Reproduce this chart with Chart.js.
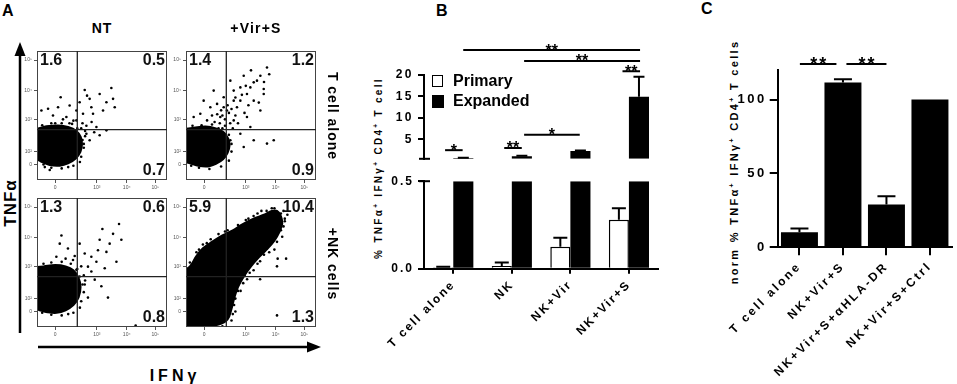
<!DOCTYPE html>
<html>
<head>
<meta charset="utf-8">
<script src="https://cdn.jsdelivr.net/npm/chart.js@4.4.1/dist/chart.umd.min.js"></script>
<style>
  html, body { margin: 0; padding: 0; background: #fff; }
  #fig { position: relative; width: 957px; height: 384px; overflow: hidden;
         font-family: "Liberation Sans", Arial, sans-serif; font-weight: bold; color: #000; }
  #fig canvas { position: absolute; }
  .txt { position: absolute; white-space: nowrap; line-height: 1; }
  .ctr { transform: translate(-50%, -50%); }
  .up { transform: translate(-50%, -50%) rotate(-90deg); }
  .down { transform: translate(-50%, -50%) rotate(90deg); }
  sup { font-size: 65%; vertical-align: 0.55em; line-height: 0; }
  .key { position: absolute; box-sizing: border-box; border: 1.5px solid #000; }
</style>
</head>
<body>
<div id="fig">
  <svg width="957" height="384" style="position:absolute;left:0;top:0">
    <line x1="20" y1="333" x2="20" y2="52" stroke="#000" stroke-width="2.5"/>
    <polygon points="20,42 14.5,56 25.5,56" fill="#000"/>
    <line x1="38" y1="347" x2="309" y2="347" stroke="#000" stroke-width="2.5"/>
    <polygon points="321,347 307,341.5 307,352.5" fill="#000"/>
  </svg>
  <div class="txt" style="left:2px;top:3px;font-size:16px">A</div>
  <div class="txt" style="left:436px;top:3px;font-size:16px">B</div>
  <div class="txt" style="left:701px;top:1px;font-size:16px">C</div>
  <div class="txt up" style="left:9.5px;top:203px;font-size:17px;letter-spacing:1px">TNFα</div>
  <div class="txt ctr" style="left:175px;top:376px;font-size:16px;letter-spacing:4px">IFNγ</div>
  <div class="txt up" style="left:379px;top:168px;font-size:10px;letter-spacing:2.3px">% TNFα<sup>+</sup> IFNγ<sup>+</sup> CD4<sup>+</sup> T cell</div>
  <div class="txt up" style="left:734px;top:162px;font-size:11px;letter-spacing:2.3px">norm % TNFα<sup>+</sup> IFNγ<sup>+</sup> CD4<sup>+</sup> T cells</div>
</div>

<script>
// ---- panel A : flow plots (IFNγ on x, TNFα on y, display units 0-100) ----
const flowColumns = ['NT', '+Vir+S'];
const flowRows = ['T cell alone', '+NK cells'];
const flowXTicks = [14, 46, 69, 91];
const flowXTickText = ['0', '10³', '10⁴', '10⁵'];
const flowYTicks = [12, 22, 47, 69, 93];
const flowYTickText = ['0', '10²', '10³', '10⁴', '10⁵'];
const gateIFNg = 31;
const gateTNFa = 39;
const quadUL = ['1.6', '1.4', '1.3', '5.9'];
const quadUR = ['0.5', '1.2', '0.6', '10.4'];
const quadLR = ['0.7', '0.9', '0.8', '1.3'];

// outlines of the dense populations
const tcellNtOutline = [[-5,40],[0,39.8],[7.2,41.6],[16.2,42.3],[23.9,41.1],[30.3,38],[33.6,33.4],[34.6,27.7],
  [33.4,21.8],[29.8,16.7],[23.9,12.9],[17.5,11.1],[9.8,11.6],[3.4,14.1],[0,15.9],[-5,16]];
const tcellVirOutline = [[-5,39],[6,40.5],[15,41.5],[23,40],[29,37],[32.5,32],[33.5,27],[32,21],[28.5,16],
  [23,12.5],[17,10.5],[9.5,11],[3,13],[-5,15]];
const nkNtOutline = [[-5,46],[5,47],[14,48],[22,47],[28,44],[32,38],[33.5,31],[32,23],[28,17],[22,13],
  [15,11],[8,11.5],[2,13],[-5,15]];
const nkVirOutline = [[-5,2],[5,1],[15,1],[25,2],[32,6],[35,14],[37,22],[40,31],[45,40],[50,47],[56,54],
  [62,60],[68,67],[72,74],[74,80],[73,86],[70,90],[66,90],[60,87],[52,84],[44,80],[36,75],[28,71],[20,66],
  [13,61],[8,55],[3,47],[-5,42]];

// scattered single events
const tcellNtEvents = [[18.2,64.1],[36.7,69.8],[38.5,65.4],[40.5,62.9],[48.2,66.7],[57.2,71.3],[58.5,62.9],
  [59.8,56.4],[16.2,56.4],[8.5,55.2],[25.1,57.7],[30.3,53.9],[35.4,51.3],[43.1,51.3],[50.8,53.9],[45.7,41.1],
  [38,35.9],[53.4,38.5],[48.2,34.7],[40.5,30.8],[30.3,46.2],[22.6,48.8],[12.3,50],[3.4,53.9],[32.8,60.3],
  [41.8,56.4],[53.4,60.3],[9.8,7.7],[35,31],[36,25],[34,18],[28,11],[19,9],[11,9.5],[5,12],[31,40],[27,43.5],
  [19,44],[11,44],[4,42.5],[37,34],[34,40],[28,46],[20,47],[35,44],[38,42],[42,45],[37,38],[44,37],[36,28],
  [33,14],[24,10],[14,44],[25,44],[6,10]];
const tcellVirEvents = [[62.3,87.2],[52.1,75.7],[59.8,70.6],[46.9,66.7],[36.7,69.3],[29,64.1],[23.9,59],
  [18.7,56.4],[11,51.3],[5.9,48.8],[31.5,53.9],[39.2,56.4],[41.8,61.5],[52.1,61.5],[57.2,53.9],[46.9,48.8],
  [36.7,46.2],[26.4,48.8],[16.2,46.2],[49.5,41.1],[41.8,35.9],[34.1,30.8],[62.3,28.2],[67.5,30.8],[52.1,30.8],
  [44.4,25.6],[59.8,66.7],[54.6,77],[49.5,71.8],[41.8,71.8],[21.3,69.3],[13.6,61.5],[34.1,77],[44.4,80.8],
  [57.2,80.8],[36.7,61.5],[29,56.4],[28,50],[30,47],[33,52],[27,54],[24,51],[32,58],[35,55],[26,44],[22,45],
  [20,50],[38,50],[34,44],[30,42],[25,40],[36,40],[40,44],[45,52],[48,58],[43,66],[38,64],[56,60],[60,76],
  [64,82],[50,85],[46,73],[35,28],[35,22],[33,15],[27,10.5],[18,8.5],[10,9.5],[4,11],[33,35],[28,40],[20,43],
  [12,42.5],[5,42]];
const nkNtEvents = [[63.1,79.8],[50.3,76],[58.5,72.2],[64.9,67.6],[48.2,67.6],[55.9,64.6],[61.1,50.6],
  [18.8,70.9],[23.8,60.8],[32.8,64.6],[36.7,57],[41.8,54.4],[45.7,50.6],[39.2,46.8],[52.1,45.6],[44.4,36.7],
  [36.7,32.9],[49.5,31.6],[54.6,22.8],[39.2,22.8],[75.9,1.2],[17.5,64.6],[27.7,51.9],[14.9,54.4],[30.3,44.3],
  [32.8,39.2],[41.8,43],[46.9,59.5],[53.4,58.2],[35,33],[36,27],[34,20],[28,11],[19,9],[11,9.5],[4,11],
  [31,45],[26,49],[19,50.5],[11,50],[5,49],[36,40],[34,47],[22,53],[29,55],[37,36],[33,15],[24,10]];
const nkVirEvents = [[70.5,53],[77,53],[70,47],[57,37],[70,9],[75,90],[73,88],[66,92],[52,44],[45,40],
  [64,65],[68,60],[73,75],[76,82],[38,22],[40,28],[44,34],[36,10],[38,12],[3,50],[8,58],[13,64],[19,68],
  [25,72],[32,75],[40,79],[48,84],[55,88],[62,90],[78,87],[76,84],[60,56],[55,49],[49,42],[42,28],[28,0.5],
  [37,17],[16,65],[10,60],[30,74],[46,83],[52,86],[70,66],[64,58],[57,51],[47,37],[75,78],[74,70],[40,34],
  [35,5],[22,0.5],[68,92],[58,90]];

// ---- panel B ----
const bCategories = ['T cell alone', 'NK', 'NK+Vir', 'NK+Vir+S'];
const seriesNames = ['Primary', 'Expanded'];
const primaryPct = [0.008, 0.015, 0.125, 0.28];
const primaryErr = [0.003, 0.02, 0.052, 0.065];
const expandedPct = [0.7, 1.1, 2.3, 14.9];
const expandedErr = [0.04, 0.08, 0.12, 4.6];
const bUpperTicks = [5, 10, 15, 20];
const bLowerTicks = [0, 0.5];
const bSignif = [
  { from: 0.17, to: 3.19, y: 25.7, text: '**' },
  { from: 1.21, to: 3.19, y: 23.2, text: '**' },
  { from: 2.89, to: 3.19, y: 20.8, text: '**' },
  { from: 1.21, to: 2.16, y: 6.1, text: '*' },
  { from: -0.14, to: 0.16, y: 2.5, text: '*' },
  { from: 0.87, to: 1.17, y: 3.0, text: '**' }
];

// ---- panel C ----
const cCategories = ['T cell alone', 'NK+Vir+S', 'NK+Vir+S+αHLA-DR', 'NK+Vir+S+Ctrl'];
const cValues = [10.2, 111.5, 29, 100];
const cErr = [2.5, 2.3, 5.6, 0];
const cTicks = [0, 50, 100];
const cSignif = [
  { from: 0.01, to: 0.85, y: 124, text: '**' },
  { from: 1.08, to: 2.0, y: 124, text: '**' }
];

Chart.defaults.font.family = '"Liberation Sans", Arial, sans-serif';
Chart.defaults.font.weight = 'bold';
Chart.defaults.color = '#000';

const fig = document.getElementById('fig');

function makeCanvas(left, top, w, h) {
  const cv = document.createElement('canvas');
  cv.width = w; cv.height = h;
  cv.style.left = left + 'px'; cv.style.top = top + 'px';
  fig.appendChild(cv);
  return cv;
}

function addText(html, css, cls) {
  const d = document.createElement('div');
  d.className = 'txt ' + (cls || '');
  d.innerHTML = html;
  d.style.cssText = css;
  fig.appendChild(d);
}

// keep marks inside the plot area
const areaClipPlugin = {
  id: 'areaClip',
  beforeDatasetsDraw(chart) {
    const { ctx, chartArea: a } = chart;
    ctx.save();
    ctx.beginPath();
    ctx.rect(a.left, a.top, a.width, a.height);
    ctx.clip();
  },
  afterDatasetsDraw(chart) { chart.ctx.restore(); }
};

// gates, frame and quadrant percentages of a flow plot
const flowGatePlugin = {
  id: 'flowGate',
  afterDatasetsDraw(chart, args, opts) {
    const { ctx, chartArea: a, scales } = chart;
    const gx = scales.x.getPixelForValue(gateIFNg);
    const gy = scales.y.getPixelForValue(gateTNFa);
    ctx.save();
    ctx.strokeStyle = '#444';
    ctx.lineWidth = 1;
    ctx.strokeRect(a.left + 0.5, a.top + 0.5, a.width - 1, a.height - 1);
    ctx.strokeStyle = '#222';
    ctx.lineWidth = 1.3;
    ctx.beginPath();
    ctx.moveTo(gx, a.top); ctx.lineTo(gx, a.bottom);
    ctx.moveTo(a.left, gy); ctx.lineTo(a.right, gy);
    ctx.stroke();
    ctx.fillStyle = '#111';
    ctx.font = 'bold 16px "Liberation Sans", Arial, sans-serif';
    ctx.textBaseline = 'top';
    ctx.textAlign = 'left';
    ctx.fillText(opts.ul, a.left + 3, a.top + 2);
    ctx.textAlign = 'right';
    ctx.fillText(opts.ur, a.right - 2, a.top + 2);
    ctx.textBaseline = 'bottom';
    ctx.fillText(opts.lr, a.right - 2, a.bottom - 1);
    ctx.restore();
  }
};

function flowPlot(left, top, outline, events, k) {
  const cv = makeCanvas(left - 16, top - 4, 150, 150);
  const tickFont = { size: 5, weight: 'normal' };
  new Chart(cv, {
    type: 'scatter',
    data: {
      datasets: [
        { data: outline, showLine: true, fill: 'shape', tension: 0.35,
          backgroundColor: '#000', borderColor: '#000', borderWidth: 2, pointRadius: 0, pointHoverRadius: 0 },
        { data: events, pointRadius: 1.3, pointHoverRadius: 1.3, showLine: false,
          pointBackgroundColor: '#000', pointBorderWidth: 0, backgroundColor: '#000', borderColor: '#000' }
      ]
    },
    options: {
      responsive: false, animation: false, events: [],
      layout: { padding: { top: 4, right: 4, left: 0, bottom: 0 } },
      plugins: {
        legend: { display: false }, tooltip: { enabled: false },
        flowGate: { ul: quadUL[k], ur: quadUR[k], lr: quadLR[k] }
      },
      scales: {
        x: {
          type: 'linear', min: 0, max: 100,
          afterFit: s => { s.height = 16; },
          afterBuildTicks: s => { s.ticks = flowXTicks.map(v => ({ value: v })); },
          ticks: { font: tickFont, color: '#555', padding: 2, maxRotation: 0, autoSkip: false,
                   callback: v => flowXTickText[flowXTicks.indexOf(v)] },
          grid: { drawOnChartArea: false, tickLength: 3, color: '#555' },
          border: { display: false }
        },
        y: {
          type: 'linear', min: 0, max: 100,
          afterFit: s => { s.width = 16; },
          afterBuildTicks: s => { s.ticks = flowYTicks.map(v => ({ value: v })); },
          ticks: { font: tickFont, color: '#555', padding: 2, autoSkip: false,
                   callback: v => flowYTickText[flowYTicks.indexOf(v)] },
          grid: { drawOnChartArea: false, tickLength: 3, color: '#555' },
          border: { display: false }
        }
      }
    },
    plugins: [areaClipPlugin, flowGatePlugin]
  });
}

flowPlot(37.3, 50, tcellNtOutline, tcellNtEvents, 0);
flowPlot(185.7, 50, tcellVirOutline, tcellVirEvents, 1);
flowPlot(37.3, 197, nkNtOutline, nkNtEvents, 2);
flowPlot(185.7, 197, nkVirOutline, nkVirEvents, 3);

addText(flowColumns[0], 'left:102px;top:27.5px;font-size:14px;letter-spacing:1px', 'ctr');
addText(flowColumns[1], 'left:256px;top:27.5px;font-size:14px;letter-spacing:1.2px', 'ctr');
addText(flowRows[0], 'left:332.5px;top:116px;font-size:14px;letter-spacing:1px', 'down');
addText(flowRows[1], 'left:332.5px;top:264px;font-size:14px;letter-spacing:1px', 'down');

// ---- shared plugins for bar panels ----
const spacingPlugin = {
  id: 'spacing',
  beforeDraw(chart, args, opts) { chart.ctx.letterSpacing = opts.px + 'px'; }
};

const errorBarPlugin = {
  id: 'errorBars',
  afterDatasetsDraw(chart, args, opts) {
    const { ctx } = chart;
    ctx.save();
    ctx.strokeStyle = '#000';
    ctx.lineWidth = 2;
    chart.data.datasets.forEach((ds, d) => {
      const meta = chart.getDatasetMeta(d);
      const yScale = chart.scales[meta.yAxisID];
      ds.data.forEach((v, i) => {
        const err = opts.errors[d][i];
        // only whiskers whose end falls inside this axis segment
        if (!err || v + err < yScale.min || v + err > yScale.max) return;
        const x = meta.data[i].x;
        const y0 = yScale.getPixelForValue(Math.max(v, yScale.min));
        const y1 = yScale.getPixelForValue(v + err);
        ctx.beginPath();
        ctx.moveTo(x, y0); ctx.lineTo(x, y1);
        ctx.moveTo(x - opts.cap / 2, y1); ctx.lineTo(x + opts.cap / 2, y1);
        ctx.stroke();
      });
    });
    ctx.restore();
  }
};

const signifPlugin = {
  id: 'signif',
  afterDraw(chart, args, opts) {
    if (!opts.items) return;
    const { ctx, scales } = chart;
    ctx.save();
    ctx.strokeStyle = '#000';
    ctx.fillStyle = '#000';
    ctx.lineWidth = 2;
    ctx.font = 'bold ' + opts.size + 'px "Liberation Sans", Arial, sans-serif';
    ctx.letterSpacing = opts.spacing + 'px';
    ctx.textAlign = 'center';
    ctx.textBaseline = 'alphabetic';
    opts.items.forEach(s => {
      const x0 = scales.x.getPixelForValue(s.from);
      const x1 = scales.x.getPixelForValue(s.to);
      const y = scales.y.getPixelForValue(s.y);
      ctx.beginPath();
      ctx.moveTo(x0, y); ctx.lineTo(x1, y);
      ctx.stroke();
      ctx.fillText(s.text, (x0 + x1) / 2 + opts.spacing / 2, y + opts.size * 0.34);
    });
    ctx.restore();
  }
};

// small horizontal caps where the y axis of panel B is broken
const breakPlugin = {
  id: 'axisBreak',
  afterDraw(chart, args, opts) {
    const { ctx, chartArea: a } = chart;
    const y = opts.at === 'bottom' ? a.bottom : a.top;
    ctx.save();
    ctx.strokeStyle = '#000';
    ctx.lineWidth = 2;
    ctx.beginPath();
    ctx.moveTo(a.left - 5, y); ctx.lineTo(a.left + 6, y);
    ctx.stroke();
    ctx.restore();
  }
};

function bDatasets() {
  return [
    { label: seriesNames[0], data: primaryPct.slice(), backgroundColor: '#fff', borderColor: '#000', borderWidth: 1.5,
      categoryPercentage: 0.686, barPercentage: 1, clip: 0 },
    { label: seriesNames[1], data: expandedPct.slice(), backgroundColor: '#000', borderWidth: 0,
      categoryPercentage: 0.686, barPercentage: 1, clip: 0 }
  ];
}

function bYAxis(min, max, ticks, fmt) {
  return {
    type: 'linear', min: min, max: max,
    afterFit: s => { s.width = 44; },
    afterBuildTicks: s => { s.ticks = ticks.map(v => ({ value: v })); },
    ticks: { font: { size: 12 }, color: '#000', padding: 4, callback: fmt },
    grid: { drawOnChartArea: false, tickLength: 6, lineWidth: 2, color: '#000' },
    border: { width: 2, color: '#000' }
  };
}

// upper part of panel B (0.5 - 20)
new Chart(makeCanvas(380, 30, 310, 140), {
  type: 'bar',
  data: { labels: bCategories, datasets: bDatasets() },
  options: {
    responsive: false, animation: false, events: [],
    layout: { padding: { top: 44.7, right: 31.8, bottom: 7, left: 0 } },
    plugins: {
      legend: { display: false }, tooltip: { enabled: false },
      spacing: { px: 2.5 },
      errorBars: { errors: [primaryErr, expandedErr], cap: 11 },
      signif: { items: bSignif, size: 16, spacing: 0 },
      axisBreak: { at: 'bottom' }
    },
    scales: {
      x: { type: 'category', offset: true, display: false },
      y: bYAxis(0.5, 20, bUpperTicks, v => String(v))
    }
  },
  plugins: [areaClipPlugin, spacingPlugin, errorBarPlugin, signifPlugin, breakPlugin]
});

// lower part of panel B (0 - 0.5)
new Chart(makeCanvas(380, 170, 310, 214), {
  type: 'bar',
  data: { labels: bCategories, datasets: bDatasets() },
  options: {
    responsive: false, animation: false, events: [],
    layout: { padding: { top: 11, right: 31.8, bottom: 0, left: 0 } },
    plugins: {
      legend: { display: false }, tooltip: { enabled: false },
      spacing: { px: 2 },
      errorBars: { errors: [primaryErr, expandedErr], cap: 14 },
      axisBreak: { at: 'top' }
    },
    scales: {
      x: {
        type: 'category', offset: true,
        afterFit: s => { s.height = 115.3; },
        ticks: { font: { size: 12 }, color: '#000', minRotation: 45, maxRotation: 45, autoSkip: false, padding: 4 },
        grid: { offset: false, drawOnChartArea: false, tickLength: 5, lineWidth: 2, color: '#000' },
        border: { width: 2, color: '#000' }
      },
      y: bYAxis(0, 0.5, bLowerTicks, v => v.toFixed(1))
    }
  },
  plugins: [areaClipPlugin, spacingPlugin, errorBarPlugin, breakPlugin]
});

// legend of panel B
const keyBoxes = [
  'left:431.7px;top:75px;width:11.5px;height:11.7px;background:#fff',
  'left:431.7px;top:95px;width:12px;height:12.7px;background:#000'
];
seriesNames.forEach((name, i) => {
  const b = document.createElement('div');
  b.className = 'key';
  b.style.cssText = keyBoxes[i];
  fig.appendChild(b);
  addText(name, 'left:453px;top:' + (73 + i * 20) + 'px;font-size:16px');
});

// panel C
new Chart(makeCanvas(700, 30, 257, 354), {
  type: 'bar',
  data: {
    labels: cCategories,
    datasets: [{ data: cValues, backgroundColor: '#000', borderWidth: 0,
                 categoryPercentage: 0.85, barPercentage: 1, clip: 0 }]
  },
  options: {
    responsive: false, animation: false, events: [],
    layout: { padding: { top: 40, right: 5.3, bottom: 0, left: 0 } },
    plugins: {
      legend: { display: false }, tooltip: { enabled: false },
      spacing: { px: 2.5 },
      errorBars: { errors: [cErr], cap: 18 },
      signif: { items: cSignif, size: 18, spacing: 2 }
    },
    scales: {
      x: {
        type: 'category', offset: true,
        afterFit: s => { s.height = 136.7; },
        ticks: { font: { size: 12 }, color: '#000', minRotation: 45, maxRotation: 45, autoSkip: false, padding: 4 },
        grid: { offset: false, drawOnChartArea: false, tickLength: 8, lineWidth: 2, color: '#000' },
        border: { width: 2, color: '#000' }
      },
      y: {
        type: 'linear', min: 0, max: 120,
        afterFit: s => { s.width = 77.7; },
        afterBuildTicks: s => { s.ticks = cTicks.map(v => ({ value: v })); },
        ticks: { font: { size: 13 }, color: '#000', padding: 3 },
        grid: { drawOnChartArea: false, tickLength: 8, lineWidth: 2, color: '#000' },
        border: { width: 2, color: '#000' }
      }
    }
  },
  plugins: [areaClipPlugin, spacingPlugin, errorBarPlugin, signifPlugin]
});
</script>
</body>
</html>
